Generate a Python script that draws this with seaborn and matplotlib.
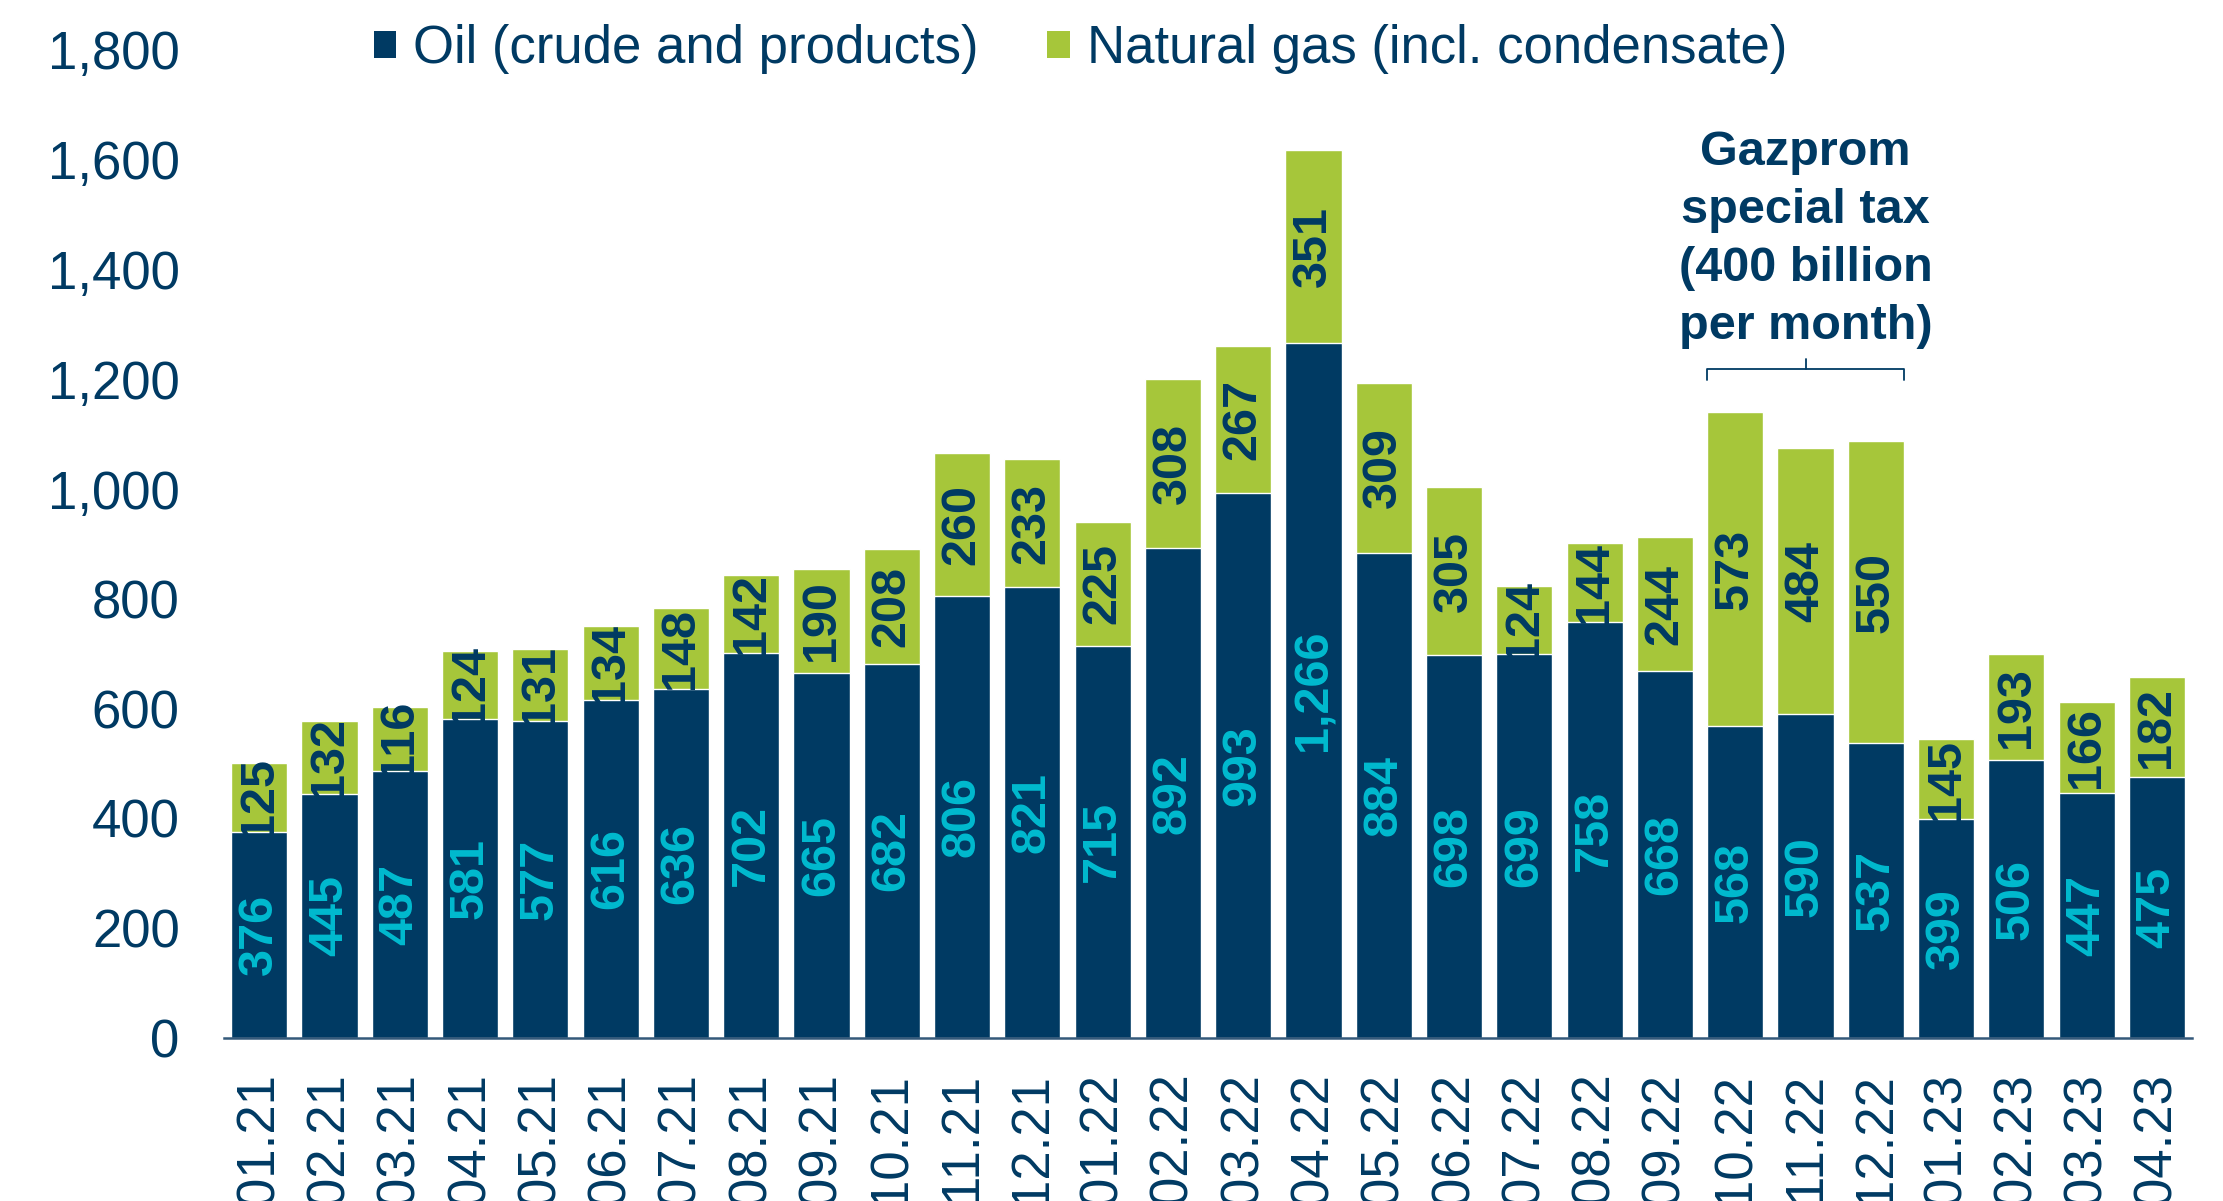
import matplotlib
matplotlib.use("Agg")
import matplotlib.pyplot as plt
import seaborn as sns
import pandas as pd
from matplotlib.patches import Patch
from matplotlib.ticker import FuncFormatter

months = ["01.21", "02.21", "03.21", "04.21", "05.21", "06.21", "07.21", "08.21",
          "09.21", "10.21", "11.21", "12.21", "01.22", "02.22", "03.22", "04.22",
          "05.22", "06.22", "07.22", "08.22", "09.22", "10.22", "11.22", "12.22",
          "01.23", "02.23", "03.23", "04.23"]
oil = [376, 445, 487, 581, 577, 616, 636, 702, 665, 682, 806, 821, 715, 892, 993, 1266,
       884, 698, 699, 758, 668, 568, 590, 537, 399, 506, 447, 475]
gas = [125, 132, 116, 124, 131, 134, 148, 142, 190, 208, 260, 233, 225, 308, 267, 351,
       309, 305, 124, 144, 244, 573, 484, 550, 145, 193, 166, 182]
y_ticks = [0, 200, 400, 600, 800, 1000, 1200, 1400, 1600, 1800]
legend_labels = ["Oil (crude and products)", "Natural gas (incl. condensate)"]
annotation = "Gazprom\nspecial tax\n(400 billion\nper month)"
bracket_months = ["10.22", "12.22"]

NAVY = "#003A63"
GREEN = "#A6C63A"
CYAN = "#00BACF"

sns.set_theme(style="white")
plt.rcParams["font.family"] = ["Liberation Sans", "DejaVu Sans"]

df = pd.DataFrame({"month": months, "oil": oil, "gas": gas})
df["total"] = df["oil"] + df["gas"]

fig = plt.figure(figsize=(22.23, 12.01), dpi=100)
ax = fig.add_axes([0.1008, 0.1357, 0.8853, 0.8227])

sns.barplot(data=df, x="month", y="total", color=GREEN, saturation=1, width=0.8,
            ax=ax, order=months)
sns.barplot(data=df, x="month", y="oil", color=NAVY, saturation=1, width=0.8,
            ax=ax, order=months)

for i, (o, g) in enumerate(zip(oil, gas)):
    ax.text(i, o / 2, f"{o:,}", rotation=90, ha="center", va="center",
            color=CYAN, fontsize=35, fontweight="bold")
    ax.text(i, o + g / 2, f"{g:,}", rotation=90, ha="center", va="center",
            color=NAVY, fontsize=35, fontweight="bold")

ax.set_xlim(-0.5, len(months) - 0.5)
ax.set_ylim(0, 1800)
ax.set_yticks(y_ticks)
ax.yaxis.set_major_formatter(FuncFormatter(lambda v, p: f"{int(v):,}"))
ax.set_xlabel("")
ax.set_ylabel("")
ax.tick_params(axis="y", length=0, pad=32, labelsize=38, labelcolor=NAVY)
ax.tick_params(axis="x", length=0, pad=25, labelsize=38, labelcolor=NAVY,
               labelrotation=90)
for lbl in ax.get_xticklabels():
    lbl.set_va("top")
    lbl.set_ha("center")
for s in ["left", "right", "top"]:
    ax.spines[s].set_visible(False)
ax.spines["bottom"].set_color("#34597A")
ax.spines["bottom"].set_linewidth(1.8)

# bracket and annotation
i0 = months.index(bracket_months[0]) - 0.4
i1 = months.index(bracket_months[1]) + 0.4
ic = (i0 + i1) / 2
ax.plot([i0, i0, i1, i1], [1199, 1219, 1219, 1199], color=NAVY, lw=1.3,
        solid_joinstyle="round", clip_on=False)
ax.plot([ic, ic], [1219, 1237], color=NAVY, lw=1.3, clip_on=False)
ax.text(ic, 1454, annotation, ha="center", va="center", color=NAVY,
        fontsize=35, fontweight="bold", linespacing=1.37, multialignment="center")

handles = [Patch(facecolor=NAVY, edgecolor="none"), Patch(facecolor=GREEN, edgecolor="none")]
fig.legend(handles, legend_labels, loc="center", bbox_to_anchor=(0.486, 0.959),
           ncol=2, frameon=False, fontsize=38, labelcolor=NAVY,
           handlelength=0.43, handleheight=0.43, handletextpad=0.32,
           columnspacing=1.3, borderaxespad=0, borderpad=0)

fig.savefig("out.png", dpi=100)
